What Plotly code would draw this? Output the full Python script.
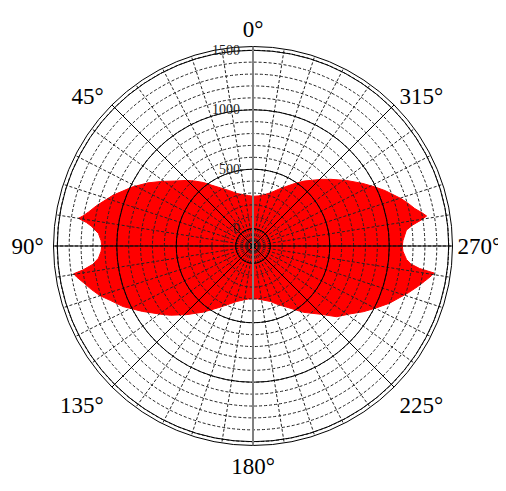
import plotly.graph_objects as go

# boundary of the red pattern (angle in degrees, counter-clockwise from top; radius value)
theta_deg = [0, 5, 10, 17, 23, 29.5, 34, 38, 42, 45.5, 50.5, 55, 59, 64, 70, 75.5, 78.3, 80, 81,
             82, 83, 85.4, 88, 90, 92, 94.5, 96.5, 98, 98.8, 100, 102.3, 105, 108, 111, 115,
             120.6, 127.7, 130, 135.8, 143, 151.7, 158, 163.8, 170, 175, 180,
             185, 190, 197.5, 203, 209, 217.4, 224.6, 229.8, 235, 239.2, 243, 247.3, 253.2,
             256, 258.4, 260.5, 261.5, 262.3, 263.5, 265, 268, 270, 272, 275.9, 277.5, 278.8,
             279.8, 281, 283, 285, 287.6, 292.7, 296, 299.6, 305, 310.6, 314.4, 321.8, 326,
             330.2, 336, 341.8, 348, 354, 360]
r_values = [272, 280, 292, 316, 360, 417, 470, 532, 590, 641, 713, 800, 885, 985, 1105, 1212, 1266, 1307, 1341,
            1268, 1224, 1158, 1133, 1126, 1133, 1158, 1209, 1297, 1380, 1360, 1311, 1263, 1207, 1136, 1060,
            935, 799, 760, 660, 551, 439, 380, 340, 315, 302, 298,
            302, 315, 344, 390, 443, 557, 660, 776, 850, 934, 1008, 1100, 1218,
            1277, 1328, 1375, 1394, 1268, 1190, 1150, 1116, 1110, 1116, 1151, 1209, 1287,
            1336, 1306, 1251, 1214, 1165, 1060, 990, 918, 815, 716, 655, 549, 490,
            435, 375, 325, 295, 278, 272]

angle_ticks = [0, 45, 90, 135, 180, 225, 270, 315]
angle_labels = ["0°", "45°\u2009", "90°\u2009", "135°\u2009", "180°",
                "\u200a225°", "270°", "\u200a315°"]
radial_ticks = [0, 500, 1000, 1500]
radial_labels = ["0\u00a0\u00a0", "500\u00a0\u00a0", "1000\u00a0\u00a0", "1500\u00a0\u00a0"]

R_RANGE = [-145.5, 1532]
DOM_X = [0.0899, 0.8785]
DOM_Y = [0.109, 0.9216]
SERIF = "Liberation Serif"

fig = go.Figure()
fig.add_trace(go.Scatterpolar(r=r_values, theta=theta_deg, mode="lines", fill="toself",
                              fillcolor="#ff0000", line=dict(color="#ff0000", width=1),
                              subplot="polar", showlegend=False, hoverinfo="skip"))
for sp in ["polar2", "polar3", "polar4"]:
    fig.add_trace(go.Scatterpolar(r=[None], theta=[None], mode="lines", subplot=sp,
                                  showlegend=False, hoverinfo="skip"))

base_ang = dict(rotation=90, direction="counterclockwise")
dom = dict(x=DOM_X, y=DOM_Y)

fig.update_layout(
    width=506, height=491,
    margin=dict(l=0, r=0, t=0, b=0),
    paper_bgcolor="white",
    showlegend=False,
    polar=dict(
        domain=dom, bgcolor="white",
        radialaxis=dict(range=R_RANGE, showgrid=False, showline=False, showticklabels=False, ticks=""),
        angularaxis=dict(showgrid=False, showline=False, showticklabels=False, ticks="", **base_ang),
    ),
    polar2=dict(
        domain=dom, bgcolor="rgba(0,0,0,0)",
        radialaxis=dict(range=R_RANGE, tick0=0, dtick=100, showgrid=True, gridcolor="#222",
                        gridwidth=1, griddash="3px,2px", showline=False,
                        showticklabels=False, ticks=""),
        angularaxis=dict(tick0=0, dtick=9, showgrid=True, gridcolor="#222", gridwidth=1,
                         griddash="3px,2px", showline=False, showticklabels=False, ticks="", **base_ang),
    ),
    polar3=dict(
        domain=dom, bgcolor="rgba(0,0,0,0)",
        radialaxis=dict(range=R_RANGE, tickmode="array", tickvals=radial_ticks, ticktext=radial_labels,
                        showgrid=True, gridcolor="black", gridwidth=1, showline=True,
                        linecolor="#808080", linewidth=2, angle=90, tickangle=90,
                        side="counterclockwise", ticks="",
                        tickfont=dict(family=SERIF, size=14, color="#222")),
        angularaxis=dict(tickmode="array", tickvals=angle_ticks, ticktext=angle_labels,
                         showgrid=True, gridcolor="black", gridwidth=1, showline=True,
                         linecolor="black", linewidth=1, ticks="",
                         tickfont=dict(family=SERIF, size=23, color="black"), **base_ang),
    ),
    polar4=dict(
        domain=dom, bgcolor="rgba(0,0,0,0)",
        radialaxis=dict(range=R_RANGE, showgrid=False, showline=True, linecolor="#808080",
                        linewidth=2, angle=270, showticklabels=False, ticks=""),
        angularaxis=dict(showgrid=False, showline=False, showticklabels=False, ticks="", **base_ang),
    ),
)

fig.write_html("out.html")
